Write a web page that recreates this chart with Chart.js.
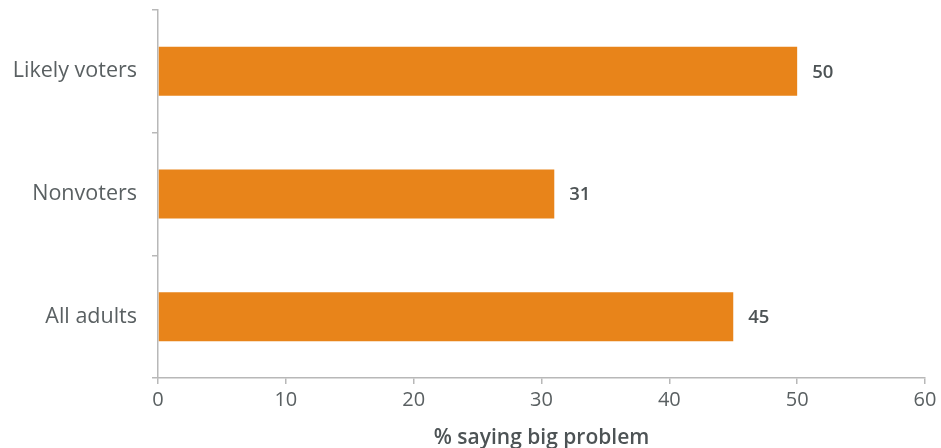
<!DOCTYPE html>
<html>
<head>
<meta charset="utf-8">
<script src="https://cdn.jsdelivr.net/npm/chart.js@4"></script>
<style>
  html, body { margin: 0; padding: 0; background: #fff; }
  .chartRow { position: relative; width: 941px; height: 448px; }
</style>
</head>
<body>
<div class="chartRow">
  <canvas id="myChart"></canvas>
</div>
<script>
const groups = ['Likely voters', 'Nonvoters', 'All adults'];
const bigProblem = [50, 31, 45];
const xTicks = [0, 10, 20, 30, 40, 50, 60];

const FONT = "'Open Sans', sans-serif";
const ORANGE = '#e8841a';
const AXIS = '#b8b8b8';

// writes each bar's value just past its end
const valueLabels = {
  id: 'valueLabels',
  afterDatasetsDraw(chart) {
    const ctx = chart.ctx;
    const meta = chart.getDatasetMeta(0);
    ctx.save();
    ctx.font = "600 18.5px " + FONT;
    ctx.fillStyle = '#4d5355';
    ctx.textAlign = 'left';
    ctx.textBaseline = 'middle';
    meta.data.forEach(function(bar, i) {
      ctx.fillText(String(bigProblem[i]), bar.x + 15, bar.y + 1);
    });
    ctx.restore();
  }
};

new Chart(document.getElementById('myChart'), {
  type: 'bar',
  data: {
    labels: groups,
    datasets: [{
      data: bigProblem,
      backgroundColor: ORANGE,
      borderWidth: 0,
      barPercentage: 0.4,
      categoryPercentage: 1
    }]
  },
  plugins: [valueLabels],
  options: {
    indexAxis: 'y',
    animation: false,
    events: [],
    responsive: true,
    maintainAspectRatio: false,
    layout: {
      padding: { top: 10, right: 16, left: 0, bottom: 0 }
    },
    plugins: {
      legend: { display: false },
      tooltip: { enabled: false }
    },
    scales: {
      x: {
        min: 0,
        max: 60,
        afterBuildTicks: function(scale) {
          scale.ticks = xTicks.map(function(v) { return { value: v }; });
        },
        afterFit: function(scale) {
          scale.height = 70;
          scale.paddingLeft = 0;
          scale.paddingRight = 0;
        },
        grid: {
          drawOnChartArea: false,
          drawTicks: true,
          tickLength: 6,
          color: AXIS,
          lineWidth: 1.5
        },
        border: { color: AXIS, width: 1.5 },
        ticks: {
          color: '#5a6062',
          padding: 4,
          font: { family: FONT, size: 20 }
        },
        title: {
          display: true,
          text: '% saying big problem',
          color: '#4d5355',
          padding: { top: 0, bottom: -3 },
          font: { family: FONT, size: 21, weight: '600' }
        }
      },
      y: {
        afterFit: function(scale) {
          scale.width = 158;
          scale.paddingTop = 0;
          scale.paddingBottom = 0;
        },
        grid: {
          offset: true,
          drawOnChartArea: false,
          drawTicks: true,
          tickLength: 6,
          color: AXIS,
          lineWidth: 1.5
        },
        border: { color: AXIS, width: 1.5 },
        ticks: {
          color: '#5a6062',
          padding: 15,
          font: { family: FONT, size: 21.5 }
        }
      }
    }
  }
});
</script>
</body>
</html>
